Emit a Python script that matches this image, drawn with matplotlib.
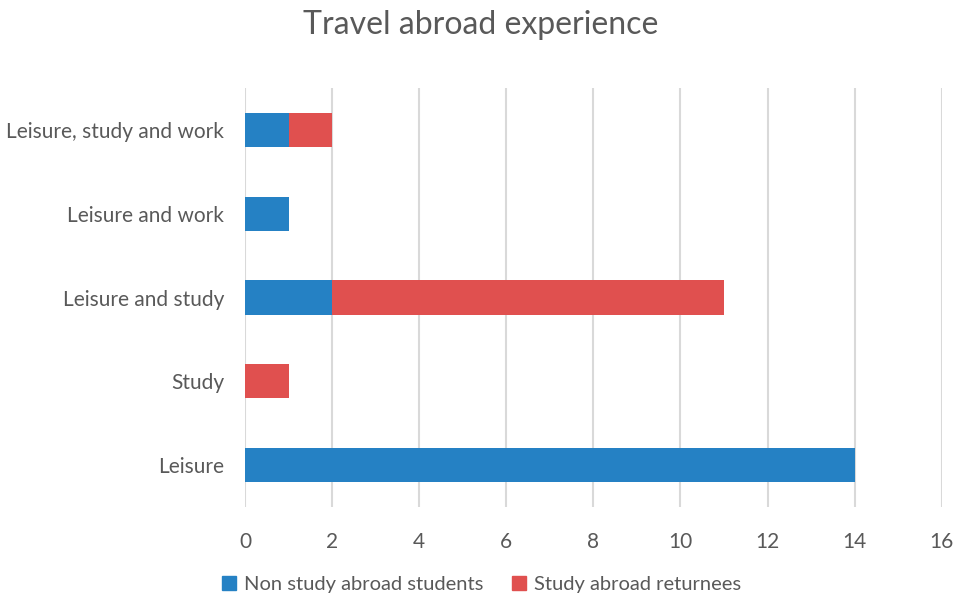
import matplotlib
matplotlib.use("Agg")
import matplotlib.pyplot as plt
from matplotlib.patches import Patch

categories = ["Leisure", "Study", "Leisure and study", "Leisure and work", "Leisure, study and work"]
non_study = [14, 0, 2, 1, 1]
returnees = [0, 1, 9, 0, 1]
x_ticks = [0, 2, 4, 6, 8, 10, 12, 14, 16]

plt.rcParams['font.family'] = ['Lato', 'DejaVu Sans']
txt = '#595959'
blue = '#2581C4'
red = '#E0504F'

fig = plt.figure(figsize=(9.57, 5.95), dpi=100)
ax = fig.add_axes([0.256, 0.148, 0.728, 0.704])
y = list(range(len(categories)))
ax.barh(y, non_study, height=0.41, color=blue, zorder=3)
ax.barh(y, returnees, left=non_study, height=0.41, color=red, zorder=3)
ax.set_xlim(0, 16)
ax.set_ylim(-0.5, len(categories) - 0.5)
ax.set_xticks(x_ticks)
ax.set_xticklabels([str(v) for v in x_ticks])
ax.set_yticks(y)
ax.set_yticklabels(categories)
ax.tick_params(axis='both', length=0, labelsize=15, colors=txt)
ax.tick_params(axis='x', pad=18)
ax.tick_params(axis='y', pad=15)
ax.xaxis.grid(True, color='#D9D9D9', linewidth=1.5, zorder=0)
for s in ax.spines.values():
    s.set_visible(False)
fig.suptitle("Travel abroad experience", x=0.502, y=0.983, fontsize=23, color=txt)
handles = [Patch(color=blue, label="Non study abroad students"),
           Patch(color=red, label="Study abroad returnees")]
fig.legend(handles=handles, loc='lower center', bbox_to_anchor=(0.503, -0.027), ncol=2,
           frameon=False, fontsize=14.5, labelcolor=txt, handlelength=0.7, handleheight=0.7,
           handletextpad=0.4, columnspacing=1.4)
fig.savefig("out.png", dpi=100)
